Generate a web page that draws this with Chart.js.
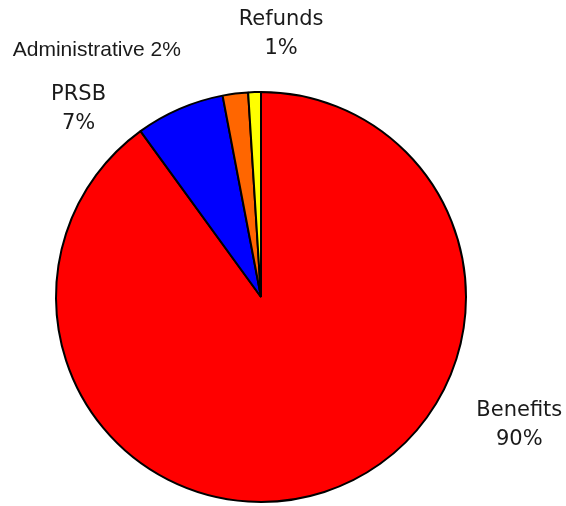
<!DOCTYPE html>
<html>
<head>
<meta charset="utf-8">
<script src="https://cdn.jsdelivr.net/npm/chart.js@4.4.1/dist/chart.umd.min.js"></script>
<style>
  html, body { margin: 0; padding: 0; background: #fff; }
  #wrap { width: 566px; height: 506px; }
</style>
</head>
<body>
<div id="wrap"><canvas id="fundPie" width="566" height="506"></canvas></div>
<script>
const categories = ['Benefits', 'PRSB', 'Administrative', 'Refunds'];
const shares = [90, 7, 2, 1];
const sliceColors = ['#ff0000', '#0000ff', '#ff6600', '#ffff00'];

// where each label sits, in units of the pie radius from its centre
const labelSpots = [
    { dx: 1.26, dy: 0.647, split: true, font: '21px "DejaVu Sans"' },
    { dx: -0.89, dy: -0.895, split: true, font: '21px "DejaVu Sans"' },
    { dx: -0.801, dy: -1.176, split: false, font: '21px "Liberation Sans"' },
    { dx: 0.098, dy: -1.26, split: true, font: '21px "DejaVu Sans"' }
];

const pieLabels = {
    id: 'pieLabels',
    afterDatasetsDraw(chart) {
        const ctx = chart.ctx;
        const arc = chart.getDatasetMeta(0).data[0];
        const cx = arc.x, cy = arc.y, r = arc.outerRadius;
        ctx.save();
        ctx.fillStyle = '#1a1a1a';
        ctx.textAlign = 'center';
        ctx.textBaseline = 'alphabetic';
        categories.forEach((name, i) => {
            const spot = labelSpots[i];
            const x = cx + spot.dx * r;
            const y = cy + spot.dy * r;
            const pct = shares[i] + '%';
            ctx.font = spot.font;
            if (spot.split) {
                ctx.fillText(name, x, y - 14);
                ctx.fillText(pct, x, y + 15);
            } else {
                ctx.fillText(name + ' ' + pct, x, y);
            }
        });
        ctx.restore();
    }
};

const pieCtx = document.getElementById('fundPie').getContext('2d');

new Chart(pieCtx, {
    type: 'pie',
    data: {
        labels: categories,
        datasets: [{
            data: shares,
            backgroundColor: sliceColors,
            borderColor: '#000',
            borderWidth: 2
        }]
    },
    options: {
        responsive: false,
        animation: false,
        layout: { padding: { top: 91, bottom: 3, left: 55, right: 99 } },
        plugins: {
            legend: { display: false },
            tooltip: { enabled: false }
        }
    },
    plugins: [pieLabels]
});
</script>
</body>
</html>
